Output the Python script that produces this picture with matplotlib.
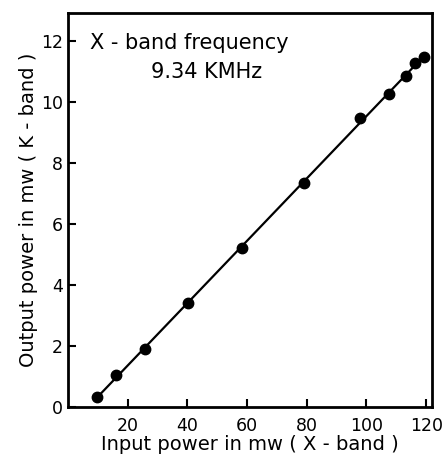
import numpy as np
import matplotlib.pyplot as plt

# input power (mW, X-band) vs output power (mW, K-band)
input_power = [9.8, 16.1, 25.9, 40.3, 58.3, 79.2, 97.8, 107.6, 113.1, 116.4, 119.2]
output_power = [0.32, 1.05, 1.92, 3.42, 5.2, 7.33, 9.47, 10.25, 10.83, 11.27, 11.46]
x_ticks = [20, 40, 60, 80, 100, 120]
y_ticks = [0, 2, 4, 6, 8, 10, 12]

fig = plt.figure(figsize=(4.46, 4.67), dpi=100)
ax = fig.add_axes([0.152, 0.128, 0.817, 0.844])

# fitted straight line through the measurements
coef = np.polyfit(input_power, output_power, 1)
xl = np.array([input_power[0], input_power[-1]])
ax.plot(xl, np.polyval(coef, xl), color='black', lw=1.6)
ax.plot(input_power, output_power, 'o', color='black', ms=7.5)

ax.set_xlim(0, 122)
ax.set_ylim(0, 12.9)
ax.set_xticks(x_ticks)
ax.set_yticks(y_ticks)
ax.tick_params(direction='in', length=6, width=1.5, labelsize=12.5)
ax.tick_params(axis='x', pad=7)
for s in ax.spines.values():
    s.set_linewidth(2)

ax.set_xlabel('Input power in mw ( X - band )', fontsize=14, labelpad=0)
ax.set_ylabel('Output power in mw ( K - band )', fontsize=14, labelpad=2)

ax.text(0.06, 0.925, 'X - band frequency', transform=ax.transAxes, fontsize=15, va='center')
ax.text(0.38, 0.85, '9.34 KMHz', transform=ax.transAxes, fontsize=15, va='center', ha='center')

plt.savefig('out.png', dpi=100)
